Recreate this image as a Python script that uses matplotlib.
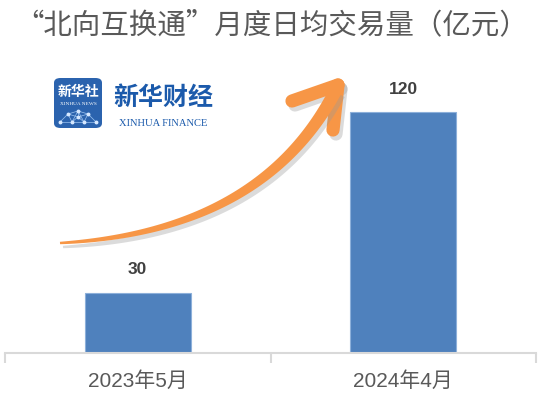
import matplotlib
matplotlib.use("Agg")
import matplotlib.pyplot as plt
import numpy as np
from matplotlib.patches import FancyBboxPatch, Polygon

plt.rcParams["font.family"] = ["Liberation Sans", "Noto Sans CJK SC", "DejaVu Sans"]

# 数据
months = ["2023年5月", "2024年4月"]
volume = [30, 120]

W, H = 544, 398
fig = plt.figure(figsize=(W / 100, H / 100), dpi=100)


def px(x, y):
    # 像素坐标(左上原点) -> figure 坐标
    return x / W, 1 - y / H


# 坐标轴区域
ax = fig.add_axes([5 / W, 1 - 352.7 / H, (536 - 5) / W, (352.7 - 60) / H])
xpos = np.arange(len(months))
bars = ax.bar(xpos, volume, width=0.4, color="#4F81BD", edgecolor="#8DB0DA", linewidth=0.8, zorder=2)
ax.set_xlim(-0.5, 1.5)
ax.set_ylim(0, 146)
for s in ["top", "right", "left"]:
    ax.spines[s].set_visible(False)
ax.spines["bottom"].set_color("#D9D9D9")
ax.spines["bottom"].set_linewidth(1.5)
ax.set_yticks([])
ax.set_xticks(xpos)
ax.set_xticklabels(months, fontsize=15, color="#595959")
ax.tick_params(axis="x", which="major", length=0, pad=13)
ax.set_xticks([-0.5, 0.5, 1.5], minor=True)
ax.tick_params(axis="x", which="minor", length=7, width=1.5, color="#D9D9D9")

for b, v in zip(bars, volume):
    ax.annotate(str(v), (b.get_x() + b.get_width() / 2, v), xytext=(0, 11),
                textcoords="offset points", ha="center", va="bottom",
                fontsize=12.5, fontweight="bold", color="#404040")

# 标题
fig.text(0.5, 1 - 25 / H, "“北向互换通”月度日均交易量（亿元）", ha="center", va="center",
         fontsize=20.5, color="#595959", family=["Noto Sans CJK SC", "DejaVu Sans"])

# 上升箭头(装饰)
p0, p1, p2 = np.array([60, 243]), np.array([262, 232]), np.array([336, 90])
t = np.linspace(0, 1, 80)
curve = ((1 - t) ** 2)[:, None] * p0 + (2 * (1 - t) * t)[:, None] * p1 + (t ** 2)[:, None] * p2
d = np.gradient(curve, axis=0)
n = np.stack([-d[:, 1], d[:, 0]], axis=1)
n /= np.linalg.norm(n, axis=1)[:, None]
half = (1.2 + 5.3 * t ** 0.8)[:, None]
outline = np.vstack([curve + n * half, (curve - n * half)[::-1]])
for off, col, a in [((3, 4), "#999999", 0.35), ((0, 0), "#F79646", 1.0)]:
    pts = [px(x + off[0], y + off[1]) for x, y in outline]
    fig.patches.append(Polygon(pts, closed=True, transform=fig.transFigure,
                               facecolor=col, edgecolor="none", alpha=a, zorder=5))
    tip = (338 + off[0], 85 + off[1])
    for end in [(292, 101), (333, 130)]:
        e = (end[0] + off[0], end[1] + off[1])
        fig.add_artist(plt.Line2D([px(*tip)[0], px(*e)[0]], [px(*tip)[1], px(*e)[1]],
                                  transform=fig.transFigure, color=col, alpha=a,
                                  linewidth=9.5, solid_capstyle="round", zorder=5))

# 新华财经标识
x0, y0 = px(54, 128)
box = FancyBboxPatch((x0, y0), 48 / W, 50 / H, boxstyle="round,pad=0,rounding_size=0.012",
                     transform=fig.transFigure, facecolor="#2B63AE", edgecolor="none")
fig.patches.append(box)
fig.text(*px(78, 92), "新华社", ha="center", va="center", fontsize=10, fontweight="bold",
         color="white", family=["Noto Sans CJK SC"])
fig.text(*px(78, 104), "XINHUA NEWS", ha="center", va="center", fontsize=3.8,
         color="white", family=["Liberation Serif"])
nodes = np.array([[60, 122], [68, 114], [78, 111], [88, 114], [96, 122], [72, 122], [84, 122], [78, 117]])
for i in range(len(nodes)):
    for j in range(i + 1, len(nodes)):
        if np.hypot(*(nodes[i] - nodes[j])) < 14:
            a, b = px(*nodes[i]), px(*nodes[j])
            fig.add_artist(plt.Line2D([a[0], b[0]], [a[1], b[1]], transform=fig.transFigure,
                                      color="#9CC3F0", linewidth=0.5))
for nx, ny in nodes:
    fig.add_artist(plt.Line2D([px(nx, ny)[0]], [px(nx, ny)[1]], transform=fig.transFigure,
                              marker="o", markersize=1.8, color="#D6E8FF", linestyle="none"))
fig.text(*px(163, 98), "新华财经", ha="center", va="center", fontsize=18, fontweight="bold",
         color="#1B5AAB", family=["Noto Sans CJK SC"])
fig.text(*px(163, 123), "XINHUA FINANCE", ha="center", va="center", fontsize=7.6,
         color="#1B5AAB", family=["Liberation Serif"])

fig.savefig("out.png", dpi=100)
